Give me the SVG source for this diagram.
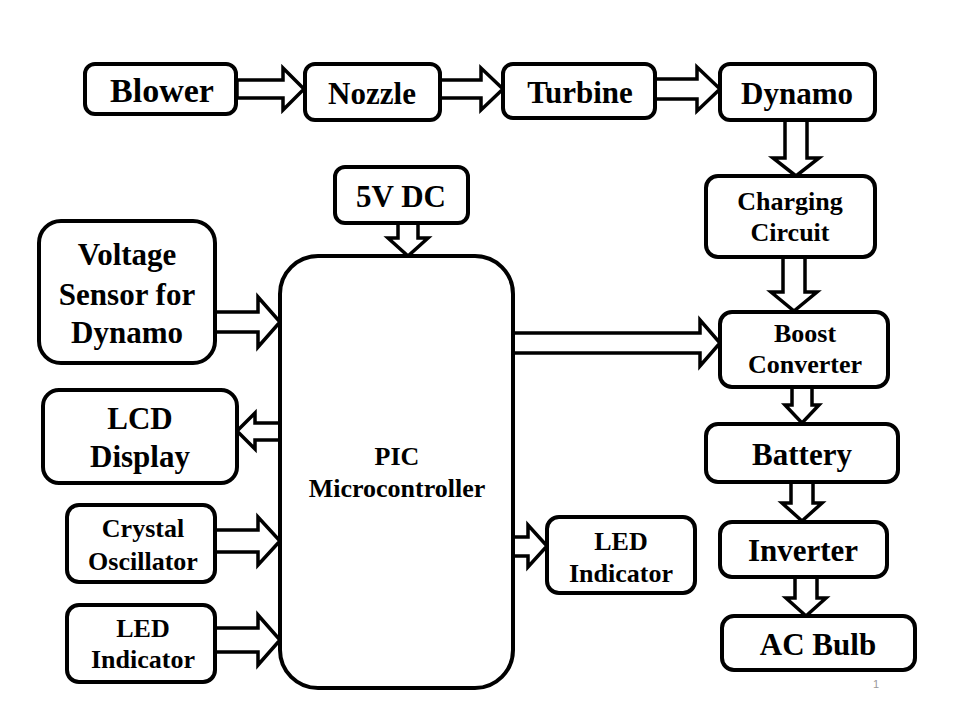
<svg xmlns="http://www.w3.org/2000/svg" width="960" height="720" viewBox="0 0 960 720">
<style>
.box{fill:#fff;stroke:#000;stroke-width:4}
.arr{fill:#fff;stroke:#000;stroke-width:3.5;stroke-linejoin:miter}
text{font-family:'Liberation Serif','Times New Roman',Tinos,'DejaVu Serif',serif;font-weight:700;fill:#000;text-anchor:middle}
.big{font-size:31px}
.sm{font-size:26px}
</style>
<rect width="960" height="720" fill="#fff"/>
<g id="connectors">
<polygon class="arr" points="237,80 283,80 283,68 304,89 283,110 283,98 237,98"/>
<polygon class="arr" points="440,80 481,80 481,68 503,89 481,110 481,98 440,98"/>
<polygon class="arr" points="655,79 697,79 697,67 720,89 697,111 697,99 655,99"/>
<polygon class="arr" points="785,120 807,120 807,158 819,158 796,176 773,158 785,158"/>
<polygon class="arr" points="783,257 805,257 805,292 817,292 794,311 771,292 783,292"/>
<polygon class="arr" points="513,333 700,333 700,320 720,343 700,366 700,353 513,353"/>
<polygon class="arr" points="792,387 812,387 812,405 819,405 802,423 785,405 792,405"/>
<polygon class="arr" points="791,482 813,482 813,503 822,503 802,521 782,503 791,503"/>
<polygon class="arr" points="795,577 817,577 817,598 826,598 806,616 786,598 795,598"/>
<polygon class="arr" points="398,223 418,223 418,238 428,238 408,256 388,238 398,238"/>
<polygon class="arr" points="215,312 258,312 258,297 280,322 258,347 258,332 215,332"/>
<polygon class="arr" points="280,423 255,423 255,413 237,431 255,449 255,440 280,440"/>
<polygon class="arr" points="215,530 258,530 258,517 280,541 258,565 258,552 215,552"/>
<polygon class="arr" points="215,628 258,628 258,615 280,640 258,665 258,652 215,652"/>
<polygon class="arr" points="513,537 528,537 528,525 547,546 528,567 528,556 513,556"/>
</g>
<g id="blower"><rect class="box" x="85" y="64" width="151" height="50" rx="10"/><text x="162" y="102" font-size="34">Blower</text></g>
<g id="nozzle"><rect class="box" x="305" y="64" width="135" height="56" rx="10"/><text class="big" x="372" y="104">Nozzle</text></g>
<g id="turbine"><rect class="box" x="503" y="64" width="152" height="54" rx="10"/><text class="big" x="580" y="103">Turbine</text></g>
<g id="dynamo"><rect class="box" x="720" y="64" width="155" height="56" rx="10"/><text class="big" x="797" y="104">Dynamo</text></g>
<g id="charging"><rect class="box" x="706" y="176" width="169" height="81" rx="12"/><text class="sm" x="790" y="210">Charging</text><text class="sm" x="790" y="241">Circuit</text></g>
<g id="boost"><rect class="box" x="720" y="312" width="168" height="75" rx="12"/><text class="sm" x="805" y="342">Boost</text><text class="sm" x="805" y="373">Converter</text></g>
<g id="battery"><rect class="box" x="706" y="424" width="192" height="58" rx="12"/><text class="big" x="802" y="465">Battery</text></g>
<g id="inverter"><rect class="box" x="720" y="522" width="167" height="55" rx="12"/><text class="big" x="803" y="561">Inverter</text></g>
<g id="acbulb"><rect class="box" x="722" y="616" width="193" height="54" rx="12"/><text class="big" x="818" y="655">AC Bulb</text></g>
<g id="pic"><rect class="box" x="280" y="256" width="233" height="432" rx="38"/><text class="sm" x="397" y="465">PIC</text><text class="sm" x="397" y="497">Microcontroller</text></g>
<g id="dc5v"><rect class="box" x="335" y="167" width="133" height="56" rx="10"/><text class="big" x="401" y="207">5V DC</text></g>
<g id="vsensor"><rect class="box" x="39" y="221" width="176" height="142" rx="22"/><text class="big" x="127" y="265">Voltage</text><text class="big" x="127" y="305">Sensor for</text><text class="big" x="127" y="343">Dynamo</text></g>
<g id="lcd"><rect class="box" x="43" y="390" width="194" height="93" rx="16"/><text class="big" x="140" y="429">LCD</text><text class="big" x="140" y="467">Display</text></g>
<g id="crystal"><rect class="box" x="67" y="505" width="148" height="77" rx="12"/><text class="sm" x="143" y="537">Crystal</text><text class="sm" x="143" y="570">Oscillator</text></g>
<g id="led1"><rect class="box" x="67" y="605" width="148" height="77" rx="12"/><text class="sm" x="143" y="637">LED</text><text class="sm" x="143" y="668">Indicator</text></g>
<g id="led2"><rect class="box" x="547" y="517" width="148" height="76" rx="12"/><text class="sm" x="621" y="550">LED</text><text class="sm" x="621" y="582">Indicator</text></g>
<text x="876" y="688" style="font-family:'Liberation Sans',Arial,sans-serif;font-weight:normal;font-size:11px;fill:#999">1</text>
</svg>
